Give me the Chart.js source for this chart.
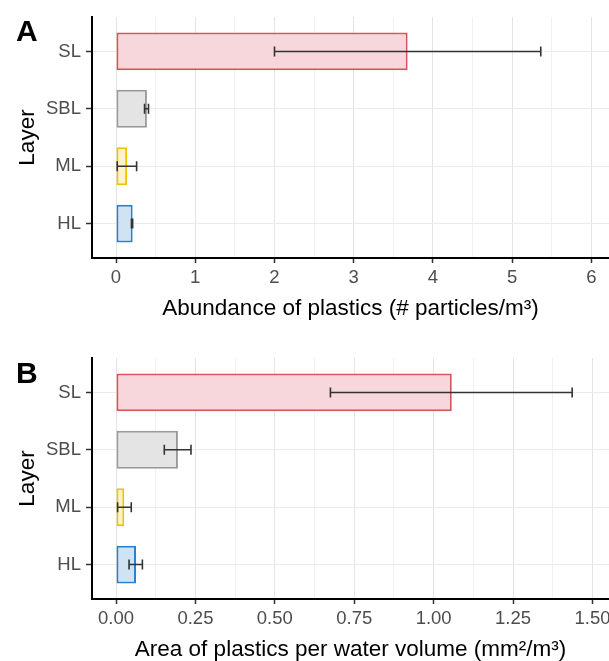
<!DOCTYPE html>
<html>
<head>
<meta charset="utf-8">
<script src="https://cdn.jsdelivr.net/npm/chart.js@4.4.0/dist/chart.umd.min.js"></script>
<style>
  html, body { margin: 0; padding: 0; background: #fff; }
  #wrap { position: relative; width: 609px; height: 661px; overflow: hidden; }
  canvas { position: absolute; left: 0; }
  .tag { position: absolute; left: 16px; font: bold 30px 'Liberation Sans', Arial, sans-serif; line-height: 1; color: #000; }
</style>
</head>
<body>
<div id="wrap">
  <canvas id="chartA" width="609" height="330" style="top:0"></canvas>
  <canvas id="chartB" width="609" height="331" style="top:330px"></canvas>
  <div class="tag" style="top:16px">A</div>
  <div class="tag" style="top:358px">B</div>
</div>
<script>
// data
const layers = ['SL', 'SBL', 'ML', 'HL'];

const abundMean = [3.68, 0.39, 0.14, 0.21];
const abundLow  = [2.00, 0.36, 0.015, 0.195];
const abundHigh = [5.36, 0.41, 0.26, 0.21];

const areaMean = [1.057, 0.195, 0.026, 0.063];
const areaLow  = [0.675, 0.152, 0.005, 0.041];
const areaHigh = [1.436, 0.236, 0.048, 0.083];

const abundTicks = [0, 1, 2, 3, 4, 5, 6];
const abundMinor = [0.5, 1.5, 2.5, 3.5, 4.5, 5.5];
const areaTicks = [0, 0.25, 0.5, 0.75, 1, 1.25, 1.5];
const areaMinor = [0.125, 0.375, 0.625, 0.875, 1.125, 1.375];

const fillColors   = ['#f7d7db', '#e4e4e4', '#fdf2cc', '#cfe3f3'];
const borderColors = ['#d8535a', '#9a9a9a', '#f2c200', '#2a80cc'];

Chart.defaults.font.family = "'Liberation Sans', Arial, sans-serif";

// error bars drawn on top of the bars
const errorBars = {
    id: 'errorBars',
    afterDatasetsDraw(chart, args, opts) {
        const { ctx, scales: { x, y } } = chart;
        ctx.save();
        ctx.strokeStyle = '#333';
        ctx.lineWidth = 1.6;
        opts.low.forEach((lo, i) => {
            const py = y.getPixelForValue(i);
            const x0 = x.getPixelForValue(lo);
            const x1 = x.getPixelForValue(opts.high[i]);
            ctx.beginPath();
            ctx.moveTo(x0, py); ctx.lineTo(x1, py);
            ctx.moveTo(x0, py - 5); ctx.lineTo(x0, py + 5);
            ctx.moveTo(x1, py - 5); ctx.lineTo(x1, py + 5);
            ctx.stroke();
        });
        ctx.restore();
    }
};

function makeChart(id, cfg) {
    const allTicks = cfg.ticks.concat(cfg.minor).sort((a, b) => a - b);
    const isMajor = v => cfg.ticks.includes(v);

    return new Chart(document.getElementById(id), {
        type: 'bar',
        data: {
            datasets: [{
                data: cfg.mean.map((v, i) => ({ x: v, y: i })),
                backgroundColor: fillColors,
                borderColor: borderColors,
                borderWidth: 2,
                borderSkipped: false,
                barPercentage: 0.66,
                categoryPercentage: 1,
            }],
        },
        options: {
            indexAxis: 'y',
            responsive: false,
            animation: false,
            layout: { padding: { top: cfg.padTop, right: 0, bottom: 0, left: 0 } },
            scales: {
                x: {
                    type: 'linear',
                    min: cfg.min,
                    max: cfg.max,
                    afterBuildTicks: s => { s.ticks = allTicks.map(v => ({ value: v })); },
                    ticks: {
                        color: '#4d4d4d',
                        font: { size: 18.5 },
                        padding: 4,
                        autoSkip: false,
                        maxRotation: 0,
                        callback: v => isMajor(v) ? cfg.fmt(v) : '',
                    },
                    grid: {
                        color: c => isMajor(c.tick.value) ? '#e3e3e3' : '#f1f1f1',
                        lineWidth: 1,
                        tickLength: 5,
                        tickWidth: 1.5,
                        tickColor: c => isMajor(c.tick.value) ? '#333' : 'rgba(0,0,0,0)',
                    },
                    border: { color: '#000', width: 2 },
                    title: {
                        display: true,
                        text: cfg.title,
                        color: '#000',
                        font: { size: 22.5, lineHeight: 1 },
                        padding: { top: 0, bottom: cfg.titlePad },
                    },
                    afterFit: s => { s.height = cfg.xHeight; s.paddingLeft = 0; s.paddingRight = 0; },
                },
                y: {
                    type: 'linear',
                    min: -0.6,
                    max: 3.6,
                    reverse: true,
                    offset: false,
                    afterBuildTicks: s => { s.ticks = layers.map((l, i) => ({ value: i })); },
                    ticks: {
                        color: '#4d4d4d',
                        font: { size: 18.5 },
                        padding: 5,
                        autoSkip: false,
                        callback: v => layers[v],
                    },
                    grid: { offset: false, color: '#ebebeb', lineWidth: 1, tickLength: 6, tickWidth: 1.5, tickColor: '#333' },
                    border: { color: '#000', width: 2 },
                    title: {
                        display: true,
                        text: 'Layer',
                        color: '#000',
                        font: { size: 22.5, lineHeight: 1.2 },
                        padding: { top: 14.5, bottom: 0 },
                    },
                    afterFit: s => { s.width = 92; s.paddingTop = 0; s.paddingBottom = 0; },
                },
            },
            plugins: {
                legend: { display: false },
                tooltip: { enabled: false },
                errorBars: { low: cfg.low, high: cfg.high },
            },
        },
        plugins: [errorBars],
    });
}

makeChart('chartA', {
    mean: abundMean, low: abundLow, high: abundHigh,
    ticks: abundTicks, minor: abundMinor,
    min: -0.303, max: 6.221,
    fmt: v => String(v),
    title: 'Abundance of plastics (# particles/m³)',
    padTop: 17, xHeight: 72, titlePad: 9.5,
});

makeChart('chartB', {
    mean: areaMean, low: areaLow, high: areaHigh,
    ticks: areaTicks, minor: areaMinor,
    min: -0.0756, max: 1.552,
    fmt: v => v.toFixed(2),
    title: 'Area of plastics per water volume (mm²/m³)',
    padTop: 28, xHeight: 62, titlePad: 0,
});
</script>
</body>
</html>
